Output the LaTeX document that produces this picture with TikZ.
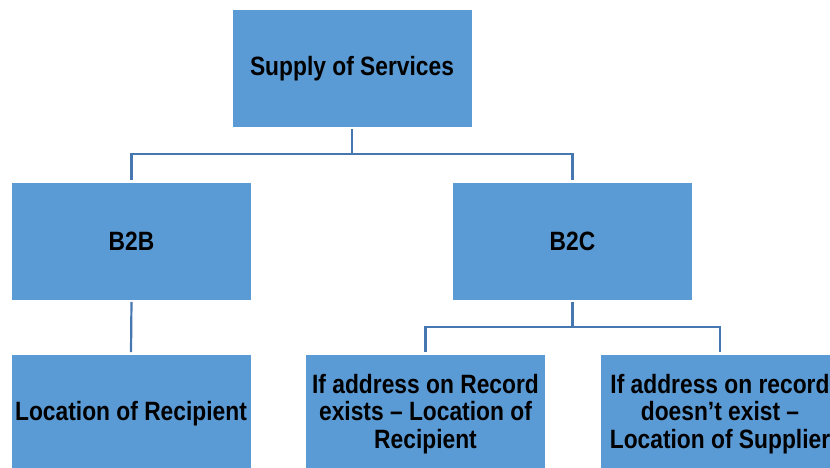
\documentclass[tikz,border=0pt]{standalone}
\usepackage{fontspec}
\setmainfont{Liberation Sans}[FakeStretch=0.86]
\definecolor{boxblue}{HTML}{5B9BD5}
\definecolor{lineblue}{HTML}{4677B0}
\begin{document}
\begin{tikzpicture}[x=1pt,y=-1pt,
  box/.style={rectangle, fill=boxblue, draw=white, line width=0.6pt,
    minimum width=240pt, inner sep=0pt, align=center,
    font=\fontsize{26.5}{27.5}\selectfont\bfseries},
  tall/.style={minimum height=118pt},
  low/.style={minimum height=120pt},
  conn/.style={draw=lineblue, line width=2.2pt, shorten <=1.5pt, shorten >=1.5pt}]
\useasboundingbox (0,0) rectangle (830,468);
\node[box,tall] (top) at (352,68.5) {Supply of Services};
\node[box,tall] (b2b) at (131.5,241) {B2B};
\node[box,tall] (b2c) at (572.5,241) {B2C};
\node[box,low] (bl) at (131,414) {Location of Recipient};
\node[box,low] (bm) at (425.5,414) {If address on Record\\exists -- Location of\\Recipient};
\node[box,low] (br) at (720,414) {If address on record\\doesn’t exist --\\Location of Supplier};
\coordinate (j1) at (352,154);
\coordinate (j2) at (572.5,327);
\draw[conn, shorten >=0pt] (top.south) -- (j1);
\draw[conn, shorten <=0pt] (j1) -| (b2b.north);
\draw[conn, shorten <=0pt] (j1) -| (b2c.north);
\draw[conn] (b2b.south) -- (bl.north);
\draw[conn, shorten >=0pt] (b2c.south) -- (j2);
\draw[conn, shorten <=0pt] (j2) -| (bm.north);
\draw[conn, shorten <=0pt] (j2) -| (br.north);
\end{tikzpicture}
\end{document}
